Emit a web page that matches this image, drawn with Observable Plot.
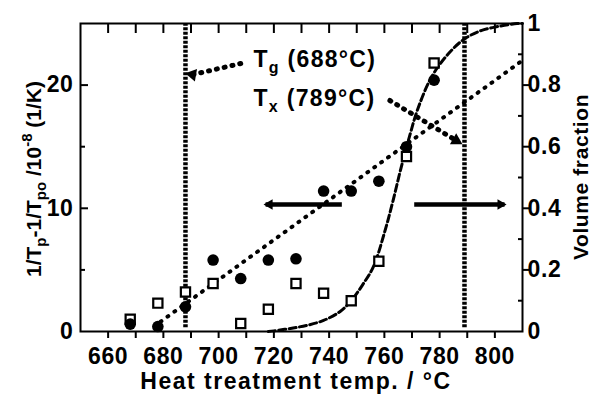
<!DOCTYPE html>
<html><head><meta charset="utf-8">
<script src="https://cdn.jsdelivr.net/npm/d3@7"></script>
<script src="https://cdn.jsdelivr.net/npm/@observablehq/plot@0.6"></script>
<style>
html,body{margin:0;padding:0;background:#fff;}
#chart svg{display:block;}
</style>
</head><body><div id="chart"></div>
<script>
// ---- data ----
const temps = [668, 678, 688, 698, 708, 718, 728, 738, 748, 758, 768, 778];
const circleValues = [0.6, 0.4, 2.0, 5.8, 4.3, 5.8, 5.9, 11.4, 11.4, 12.2, 15.0, 20.4];
const squareValues = [1.0, 2.3, 3.2, 3.9, 0.65, 1.8, 3.9, 3.1, 2.5, 5.7, 14.2, 21.8];
const fitTemps = [679, 810];
const fitValues = [0.8, 22.0];
const curveTemps = [718, 720, 726, 732, 738, 744, 748, 752, 756, 760, 763, 766, 769, 772, 777, 783, 789, 795, 801, 808, 810];
const curveFractions = [0, 0.002, 0.01, 0.02, 0.036, 0.065, 0.10, 0.15, 0.21, 0.32, 0.42, 0.53, 0.63, 0.72, 0.825, 0.90, 0.95, 0.977, 0.99, 1.0, 1.0];
const markerTemps = [688, 789];
const xTickLabels = [660, 680, 700, 720, 740, 760, 780, 800];
const xTickValues = [660, 670, 680, 690, 700, 710, 720, 730, 740, 750, 760, 770, 780, 790, 800];
const yLeftLabels = [0, 10, 20];
const yLeftMajor = [10, 20];
const yLeftMinor = [5, 15];
const yRightLabels = [0, 0.2, 0.4, 0.6, 0.8, 1];
const yRightMajor = [0.2, 0.4, 0.6, 0.8];
const yRightMinor = [0.1, 0.3, 0.5, 0.7, 0.9];
const leftPerFraction = 25; // right axis 0..1 spans left axis 0..25
// annotation anchors (data units)
const tgArrow = {x1: 708, y1: 21.75, x2: 690.5, y2: 20.85};
const txArrow = {x1: 762, y1: 18.75, x2: 786, y2: 15.5};
const bigArrows = [
  {x1: 744.6, y1: 10.3, x2: 717, y2: 10.3, dir: -1},
  {x1: 770.8, y1: 10.3, x2: 803.5, y2: 10.3, dir: 1}
];
const tgLabel = {T: 712.8, v: 21.4, main: "T", sub: "g", rest: "(688°C)"};
const txLabel = {T: 712.8, v: 18.25, main: "T", sub: "x", rest: "(789°C)"};

const circles = temps.map((T, i) => ({T, v: circleValues[i]}));
const squares = temps.map((T, i) => ({T, v: squareValues[i]}));
const fit = fitTemps.map((T, i) => ({T, v: fitValues[i]}));
const curve = curveTemps.map((T, i) => ({T, v: curveFractions[i] * leftPerFraction}));
const toLeft = f => f * leftPerFraction;

const FONT = "'Liberation Sans', Arial, Helvetica, sans-serif";
const FS = 23;

const chart = Plot.plot({
  width: 592,
  height: 398,
  marginLeft: 80,
  marginRight: 70,
  marginTop: 23,
  marginBottom: 67,
  style: {fontFamily: FONT, fontSize: FS + "px", fontWeight: "bold", color: "black", background: "white", letterSpacing: "0.6px"},
  x: {domain: [650, 810], label: null},
  y: {domain: [0, 25], label: null},
  marks: [
    // ticks
    Plot.axisX(xTickValues, {anchor: "bottom", tickSize: 7, strokeWidth: 2, tickFormat: () => "", label: null}),
    Plot.axisX(xTickValues, {anchor: "top", tickSize: -9, strokeWidth: 2, tickFormat: () => "", label: null}),
    Plot.axisY(yLeftMajor, {anchor: "left", tickSize: -8, strokeWidth: 2, tickFormat: () => "", label: null}),
    Plot.axisY(yLeftMinor, {anchor: "left", tickSize: -5, strokeWidth: 2, tickFormat: () => "", label: null}),
    Plot.axisY(yRightMajor.map(toLeft), {anchor: "right", tickSize: 6, strokeWidth: 2, tickFormat: () => "", label: null}),
    Plot.axisY(yRightMinor.map(toLeft), {anchor: "right", tickSize: -5, strokeWidth: 2, tickFormat: () => "", label: null}),
    // labels
    Plot.axisX(xTickLabels, {anchor: "bottom", tickSize: 0, tickPadding: 16, label: null}),
    Plot.axisY(yLeftLabels, {anchor: "left", tickSize: 0, tickPadding: 7, label: null}),
    Plot.axisY(yRightLabels.map(toLeft), {anchor: "right", tickSize: 0, tickPadding: 5, tickFormat: v => d3.format("~g")(+(v / leftPerFraction).toFixed(2)), label: null}),
    // vertical Tg / Tx lines
    Plot.ruleX(markerTemps, {y1: 0.3, y2: 25, stroke: "black", strokeWidth: 4.5, strokeDasharray: "3,1.5"}),
    // fits
    Plot.line(fit, {x: "T", y: "v", stroke: "black", strokeWidth: 4, strokeLinecap: "round", strokeDasharray: "1,7.5"}),
    Plot.line(curve, {x: "T", y: "v", curve: "catmull-rom", stroke: "black", strokeWidth: 3, strokeDasharray: "7,3.5"}),
    // data
    Plot.dot(squares, {x: "T", y: "v", symbol: "square", r: 5.2, fill: "white", stroke: "black", strokeWidth: 2.2}),
    Plot.dot(circles, {x: "T", y: "v", symbol: "circle", r: 5.8, fill: "black", stroke: "none"}),
    // annotation arrows
    Plot.line([{x: tgArrow.x1, y: tgArrow.y1}, {x: tgArrow.x2, y: tgArrow.y2}], {x: "x", y: "y", stroke: "black", strokeWidth: 5, strokeLinecap: "round", strokeDasharray: "1,7"}),
    Plot.line([{x: txArrow.x1, y: txArrow.y1}, {x: txArrow.x2, y: txArrow.y2}], {x: "x", y: "y", stroke: "black", strokeWidth: 5, strokeLinecap: "round", strokeDasharray: "1,7"}),
    Plot.dot([tgArrow], {x: "x2", y: "y2", symbol: "triangle2", r: 6, fill: "black", rotate: -80}),
    Plot.dot([txArrow], {x: "x2", y: "y2", symbol: "triangle2", r: 6, fill: "black"}),
    Plot.link(bigArrows, {x1: "x1", y1: "y1", x2: "x2", y2: "y2", stroke: "black", strokeWidth: 4.5}),
    Plot.dot(bigArrows.filter(d => d.dir < 0), {x: "x2", y: "y2", symbol: "triangle2", r: 5, fill: "black", rotate: -90, dx: 4}),
    Plot.dot(bigArrows.filter(d => d.dir > 0), {x: "x2", y: "y2", symbol: "triangle2", r: 5, fill: "black", rotate: 90, dx: -4}),
    Plot.frame({stroke: "black", strokeWidth: 2})
  ]
});

document.getElementById("chart").appendChild(chart);

const svg = d3.select(chart);
const sx = chart.scale("x"), sy = chart.scale("y");

function annot(o) {
  const t = svg.append("text")
    .attr("x", sx.apply(o.T)).attr("y", sy.apply(o.v))
    .attr("text-anchor", "start")
    .attr("font-family", FONT).attr("font-size", FS).attr("font-weight", "bold")
    .style("letter-spacing", "1.3px").attr("fill", "black");
  t.append("tspan").text(o.main);
  t.append("tspan").attr("font-size", 16).attr("dy", 6).text(o.sub);
  t.append("tspan").attr("dy", -6).text(" " + o.rest);
}
annot(tgLabel);
annot(txLabel);

const midY = (sy.apply(0) + sy.apply(25)) / 2;
const lt = svg.append("text")
  .attr("transform", `translate(41,${midY + 2}) rotate(-90)`)
  .attr("text-anchor", "middle")
  .attr("font-family", FONT).attr("font-size", 21).attr("font-weight", "bold")
  .style("letter-spacing", "0px").attr("fill", "black");
lt.append("tspan").text("1/T");
lt.append("tspan").attr("font-size", 15).attr("dy", 5).text("p");
lt.append("tspan").attr("dy", -5).text("-1/T");
lt.append("tspan").attr("font-size", 15).attr("dy", 5).text("po");
lt.append("tspan").attr("dy", -5).text(" /10");
lt.append("tspan").attr("font-size", 15).attr("dy", -9).text("-8");
lt.append("tspan").attr("dy", 9).text(" (1/K)");

svg.append("text")
  .attr("transform", `translate(588,${midY}) rotate(-90)`)
  .attr("text-anchor", "middle")
  .attr("font-family", FONT).attr("font-size", 21).attr("font-weight", "bold")
  .attr("fill", "black")
  .text("Volume fraction");

svg.append("text")
  .attr("x", (sx.apply(650) + sx.apply(810)) / 2 - 5)
  .attr("y", 389)
  .attr("text-anchor", "middle")
  .attr("font-family", FONT).attr("font-size", FS).attr("font-weight", "bold")
  .style("letter-spacing", "1.5px").attr("fill", "black")
  .text("Heat treatment temp. / °C");
</script>
</body></html>
